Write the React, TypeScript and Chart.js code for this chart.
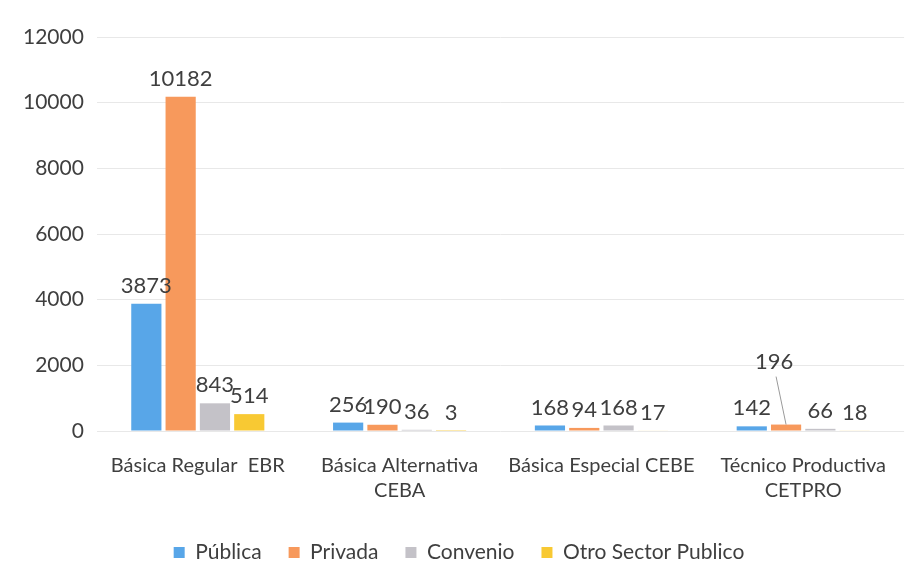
import React, { useEffect, useRef } from "react";
import { Chart, registerables } from "chart.js";

Chart.register(...registerables);

const categories: string[][] = [
  ["Básica Regular  EBR"],
  ["Básica Alternativa", "CEBA"],
  ["Básica Especial CEBE"],
  ["Técnico Productiva", "CETPRO"],
];
const publica = [3873, 256, 168, 142];
const privada = [10182, 190, 94, 196];
const convenio = [843, 36, 168, 66];
const otroSector = [514, 3, 17, 18];
const seriesNames = ["Pública", "Privada", "Convenio", "Otro Sector Publico"];
const yTicks = [0, 2000, 4000, 6000, 8000, 10000, 12000];

const FONT = "Lato, 'Open Sans', sans-serif";
const TEXT = "#3f3f3f";

const valueLabels = {
  id: "valueLabels",
  afterDatasetsDraw(chart: any) {
    const ctx = chart.ctx;
    ctx.save();
    ctx.font = `22px ${FONT}`;
    ctx.fillStyle = TEXT;
    ctx.textAlign = "center";
    ctx.textBaseline = "bottom";
    chart.data.datasets.forEach((ds: any, di: number) => {
      const meta = chart.getDatasetMeta(di);
      meta.data.forEach((el: any, i: number) => {
        const v = ds.data[i];
        if (di === 1 && i === 3) {
          const lx = el.x - 12;
          const ly = el.y - 52;
          ctx.strokeStyle = "#9a9a9a";
          ctx.lineWidth = 1;
          ctx.beginPath();
          ctx.moveTo(lx + 2, ly + 4);
          ctx.lineTo(el.x, el.y);
          ctx.stroke();
          ctx.fillText(String(v), lx, ly);
        } else {
          ctx.fillText(String(v), el.x, el.y - 7);
        }
      });
    });
    ctx.restore();
  },
};

export default function App() {
  const ref = useRef<HTMLCanvasElement | null>(null);
  useEffect(() => {
    document.body.style.margin = "0";
    if (!ref.current) return;
    const chart = new Chart(ref.current, {
      type: "bar",
      data: {
        labels: categories,
        datasets: [
          { label: seriesNames[0], data: publica, backgroundColor: "#58a6e8" },
          { label: seriesNames[1], data: privada, backgroundColor: "#f7995c" },
          { label: seriesNames[2], data: convenio, backgroundColor: "#c4c2c8" },
          { label: seriesNames[3], data: otroSector, backgroundColor: "#f8c933" },
        ],
      },
      options: {
        animation: false,
        responsive: true,
        maintainAspectRatio: false,
        layout: { padding: { left: 10, right: 0, top: 37, bottom: -6 } },
        datasets: { bar: { categoryPercentage: 0.68, barPercentage: 0.88 } } as any,
        plugins: {
          legend: {
            position: "bottom",
            labels: {
              font: { family: FONT, size: 21 },
              color: TEXT,
              boxWidth: 11,
              boxHeight: 11,
              padding: 27,
            },
          },
          tooltip: { enabled: false },
        },
        scales: {
          x: {
            grid: { display: false, drawTicks: false },
            border: { display: false },
            afterFit: (scale: any) => {
              scale.height = 84;
            },
            ticks: {
              font: { family: FONT, size: 20, lineHeight: 1.25 },
              color: TEXT,
              padding: 22,
              maxRotation: 0,
              autoSkip: false,
            },
          },
          y: {
            min: 0,
            max: 12000,
            afterBuildTicks: (axis: any) => {
              axis.ticks = yTicks.map((v) => ({ value: v }));
            },
            grid: { color: "#e8e8e8", drawTicks: false },
            border: { display: false },
            ticks: {
              font: { family: FONT, size: 21 },
              color: TEXT,
              padding: 13,
              callback: (v: any) => String(v),
            },
          },
        },
      },
      plugins: [valueLabels],
    });
    return () => chart.destroy();
  }, []);
  return (
    <div style={{ position: "absolute", left: 0, top: 0, width: 908, height: 567 }}>
      <canvas ref={ref} />
    </div>
  );
}
